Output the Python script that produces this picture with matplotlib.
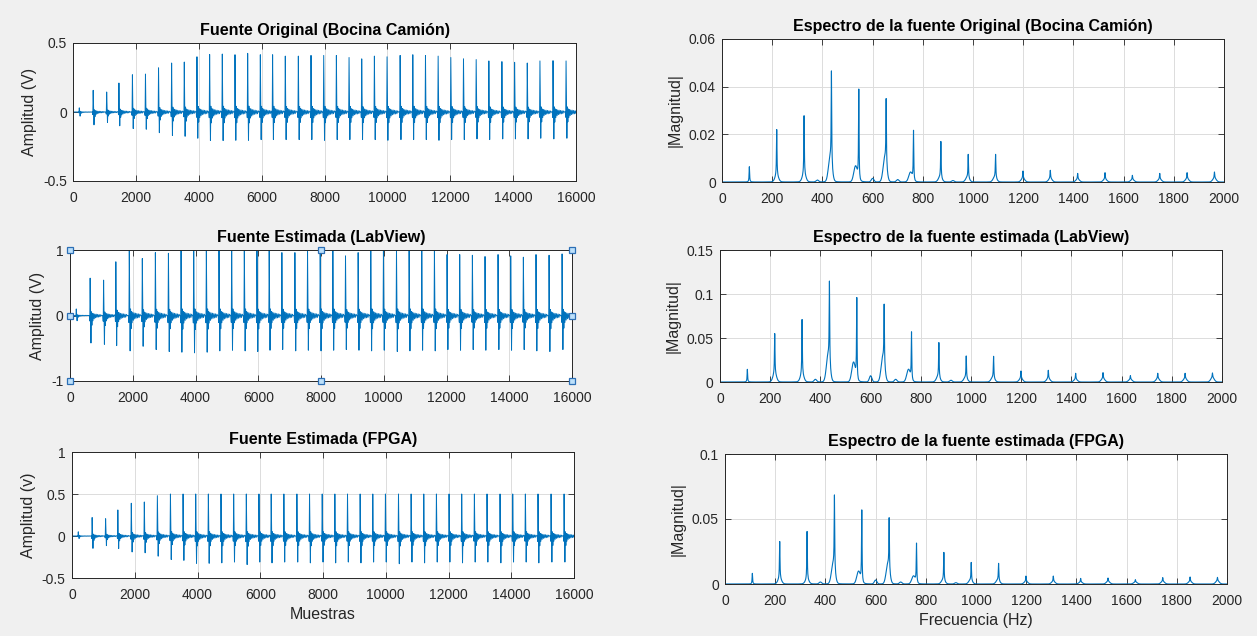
"""Horn source vs. estimated sources (LabView / FPGA): waveforms and spectra."""

import matplotlib

matplotlib.use("Agg")
import matplotlib.pyplot as plt
import numpy as np
from matplotlib.ticker import FuncFormatter, MultipleLocator

plt.rcParams["font.family"] = ["Liberation Sans", "DejaVu Sans"]
plt.rcParams["axes.unicode_minus"] = False

# ---------------------------------------------------------------- time data
n_samples = 16000

# sample index of each pulse (first entry is the small blip at the start)
pulse_pos = [200, 642, 1071, 1461, 1890, 2305, 2721, 3137, 3540, 3943, 4346,
             4749, 5153, 5556, 5959, 6349, 6753, 7168, 7571, 7975, 8378, 8781,
             9184, 9587, 9990, 10406, 10809, 11212, 11615, 12018, 12421, 12825,
             13228, 13643, 14047, 14450, 14853, 15269, 15684]

orig_pos = [0.03, 0.157, 0.145, 0.21, 0.27, 0.275, 0.32, 0.355, 0.362, 0.40,
            0.417, 0.42, 0.415, 0.425, 0.415, 0.415, 0.405, 0.405, 0.41, 0.41,
            0.41, 0.395, 0.385, 0.405, 0.40, 0.41, 0.415, 0.41, 0.405, 0.395,
            0.385, 0.38, 0.37, 0.365, 0.36, 0.355, 0.37, 0.372, 0.37]
orig_neg = [-0.03, -0.093, -0.076, -0.10, -0.12, -0.125, -0.15, -0.17, -0.176,
            -0.19, -0.207, -0.207, -0.205, -0.205, -0.2, -0.2, -0.2, -0.2, -0.2,
            -0.205, -0.2, -0.2, -0.2, -0.2, -0.205, -0.2, -0.2, -0.2, -0.205,
            -0.2, -0.2, -0.195, -0.2, -0.195, -0.195, -0.195, -0.19, -0.195, -0.19]

labview_pos = [0.1, 0.57, 0.54, 0.82, 1.0, 0.87, 0.96, 0.95, 1.0, 1.0, 1.0,
               1.0, 1.0, 1.0, 0.99, 1.0, 0.96, 0.96, 0.975, 1.0, 0.99, 0.91,
               0.96, 1.0, 0.985, 1.0, 1.0, 1.0, 1.0, 0.93, 0.93, 0.92, 0.9,
               0.93, 0.91, 0.89, 0.93, 0.92, 0.94]
labview_neg = [-0.08, -0.42, -0.44, -0.46, -0.54, -0.47, -0.52, -0.55, -0.56,
               -0.57, -0.56, -0.54, -0.53, -0.54, -0.55, -0.53, -0.52, -0.54,
               -0.53, -0.54, -0.53, -0.52, -0.53, -0.54, -0.53, -0.55, -0.54,
               -0.53, -0.54, -0.52, -0.53, -0.52, -0.53, -0.52, -0.53, -0.52,
               -0.54, -0.55, -0.52]

fpga_pos = [0.05, 0.22, 0.206, 0.31, 0.39, 0.405, 0.48, 0.5, 0.5, 0.5, 0.5,
            0.5, 0.5, 0.5, 0.5, 0.5, 0.5, 0.5, 0.5, 0.5, 0.5, 0.5, 0.5, 0.5,
            0.5, 0.5, 0.5, 0.5, 0.5, 0.5, 0.5, 0.5, 0.5, 0.5, 0.5, 0.5, 0.5,
            0.5, 0.5]
fpga_neg = [-0.03, -0.147, -0.115, -0.15, -0.19, -0.2, -0.24, -0.28, -0.29,
            -0.325, -0.325, -0.32, -0.31, -0.34, -0.31, -0.32, -0.31, -0.31,
            -0.32, -0.31, -0.32, -0.31, -0.32, -0.31, -0.31, -0.33, -0.31,
            -0.32, -0.31, -0.31, -0.32, -0.31, -0.31, -0.32, -0.31, -0.31,
            -0.32, -0.31, -0.31]

# shape of one pulse: offsets in samples, the part scaled by
# the positive peak and the part scaled by the negative peak
shape_off = [-24, -12, 0, 12, 26, 40, 56, 72, 90, 110, 130, 150, 172, 194, 216,
             240, 264, 288, 312, 336, 360]
shape_pos = [0, 0, 1.0, 0.2, 0, 0.1, -0.04, 0.06, -0.03, 0.05, -0.03, 0.04,
             -0.025, 0.035, -0.02, 0.03, -0.02, 0.025, -0.02, 0.02, 0]
shape_neg = [0, 0.2, 0, 0, 1.0, 0, 0.3, 0, 0.15, 0, 0.08, 0, 0.05, 0, 0.04, 0,
             0.03, 0, 0.02, 0, 0]

# ------------------------------------------------------------ spectrum data
harm_freq = [109, 218, 327, 436, 545, 654, 763, 872, 981, 1090, 1199, 1308,
             1417, 1526, 1635, 1744, 1853, 1962]
base_shift = [0, 0, 0, -5, -13, -5, -12, -3, -3, -3, 0, 0, 0, 0, 0, 0, 0, 0]

orig_peak = [0.0064, 0.022, 0.0278, 0.0466, 0.039, 0.035, 0.0217, 0.017, 0.0116,
             0.0116, 0.0046, 0.0049, 0.0036, 0.0039, 0.0028, 0.0036, 0.0039, 0.0042]
orig_base = [0.0, 0.0025, 0.003, 0.010, 0.0065, 0.010, 0.004, 0.002, 0.002,
             0.002, 0.0015, 0.0015, 0.0012, 0.0012, 0.001, 0.0012, 0.0014, 0.0016]

labview_peak = [0.0144, 0.055, 0.071, 0.1147, 0.096, 0.0885, 0.057, 0.0448,
                0.0296, 0.0292, 0.0125, 0.0133, 0.0099, 0.0106, 0.0072, 0.0099,
                0.0099, 0.0103]
labview_base = [0.0, 0.009, 0.008, 0.030, 0.022, 0.028, 0.014, 0.006, 0.005,
                0.005, 0.004, 0.004, 0.003, 0.004, 0.003, 0.004, 0.004, 0.005]

fpga_peak = [0.0082, 0.0327, 0.0404, 0.0685, 0.057, 0.051, 0.0315, 0.0243,
             0.0166, 0.0159, 0.0061, 0.0061, 0.0043, 0.0046, 0.0033, 0.0049,
             0.0054, 0.0051]
fpga_base = [0.0, 0.004, 0.003, 0.015, 0.0095, 0.015, 0.006, 0.003, 0.003,
             0.003, 0.002, 0.002, 0.0015, 0.002, 0.0015, 0.002, 0.002, 0.0025]

extra_freq = [380, 600, 700, 920]
orig_extra = [0.0008, 0.0015, 0.001, 0.0006]
labview_extra = [0.003, 0.007, 0.003, 0.002]
fpga_extra = [0.0015, 0.003, 0.0015, 0.001]

LINE = "#0072BD"
AX_COL = "#262626"


def build_wave(pos_amp, neg_amp):
    xs, ys = [0], [0.0]
    for p, a, b in zip(pulse_pos, pos_amp, neg_amp):
        for off, sp, sn in zip(shape_off, shape_pos, shape_neg):
            xs.append(p + off)
            ys.append(a * sp + b * sn)
    xs.append(n_samples - 1)
    ys.append(0.0)
    return np.array(xs), np.array(ys)


def build_spectrum(f, peaks, bases, extras):
    spec = np.zeros_like(f)
    for fk, pk, bk, sh in zip(harm_freq, peaks, bases, base_shift):
        bump = bk * np.exp(-0.5 * ((f - fk - sh) / 7.0) ** 2)
        spike = max(pk - bk * np.exp(-0.5 * (sh / 7.0) ** 2), 0.0)
        spec += bump + spike / (1.0 + ((f - fk) / 1.2) ** 2)
    for fe, he in zip(extra_freq, extras):
        spec += he * np.exp(-0.5 * ((f - fe) / 5.0) ** 2)
    return spec


def style_axes(ax):
    ax.set_facecolor("white")
    ax.grid(True, color="#dcdcdc", linewidth=0.7)
    ax.set_axisbelow(True)
    for s in ax.spines.values():
        s.set_color(AX_COL)
        s.set_linewidth(0.7)
    ax.tick_params(direction="in", length=4, width=0.6, colors=AX_COL,
                   labelsize=10, top=True, right=True)
    ax.tick_params(axis="x", pad=7.5)
    ax.tick_params(axis="y", pad=4.5)
    ax.yaxis.set_major_formatter(FuncFormatter(lambda v, _: f"{v:g}"))
    ax.xaxis.set_major_formatter(FuncFormatter(lambda v, _: f"{v:g}"))


W, H = 1257, 636
fig = plt.figure(figsize=(W / 100, H / 100), dpi=100, facecolor="#f0f0f0")


def add_box(l, t, r, b):
    return fig.add_axes([l / W, 1 - b / H, (r - l) / W, (b - t) / H])


boxes_left = [(73, 43, 576, 181), (70, 250, 572, 381), (72, 452, 574, 578)]
boxes_right = [(722, 39, 1224, 182), (720, 250, 1222, 382), (725, 454, 1227, 584)]

time_sets = [
    ("Fuente Original (Bocina Camión)", "Amplitud (V)", orig_pos, orig_neg, (-0.5, 0.5), 0.5),
    ("Fuente Estimada (LabView)", "Amplitud (V)", labview_pos, labview_neg, (-1, 1), 1),
    ("Fuente Estimada (FPGA)", "Amplitud (v)", fpga_pos, fpga_neg, (-0.5, 1), 0.5),
]
spec_sets = [
    ("Espectro de la fuente Original (Bocina Camión)", orig_peak, orig_base, orig_extra, 0.06, 0.02),
    ("Espectro de la fuente estimada (LabView)", labview_peak, labview_base, labview_extra, 0.15, 0.05),
    ("Espectro de la fuente estimada (FPGA)", fpga_peak, fpga_base, fpga_extra, 0.1, 0.05),
]

freq = np.arange(0, 2001, 1.0)

for i, (box, (title, ylab, pa, na, ylim, ystep)) in enumerate(zip(boxes_left, time_sets)):
    ax = add_box(*box)
    x, y = build_wave(pa, na)
    ax.plot(x, np.clip(y, ylim[0], ylim[1]), color=LINE, linewidth=0.7)
    ax.set_xlim(0, 16000)
    ax.set_ylim(*ylim)
    ax.xaxis.set_major_locator(MultipleLocator(2000))
    ax.yaxis.set_major_locator(MultipleLocator(ystep))
    style_axes(ax)
    ax.set_title(title, fontsize=11.5, fontweight="bold", pad=6)
    ax.set_ylabel(ylab, fontsize=11.5, color=AX_COL, labelpad=4.5)
    if i == 2:
        ax.set_xlabel("Muestras", fontsize=11.5, color=AX_COL, labelpad=3)
    if i == 1:
        hx = [0, 8000, 16000, 0, 16000, 0, 8000, 16000]
        hy = [1, 1, 1, 0, 0, -1, -1, -1]
        ax.plot(hx, hy, linestyle="none", marker="s", markersize=5,
                markerfacecolor="#bde0fa", markeredgecolor="#2c6fb5",
                markeredgewidth=0.9, clip_on=False, zorder=10)

for i, (box, (title, pk, bs, ex, ymax, ystep)) in enumerate(zip(boxes_right, spec_sets)):
    ax = add_box(*box)
    ax.plot(freq, build_spectrum(freq, pk, bs, ex), color=LINE, linewidth=0.8)
    ax.set_xlim(0, 2000)
    ax.set_ylim(0, ymax)
    ax.xaxis.set_major_locator(MultipleLocator(200))
    ax.yaxis.set_major_locator(MultipleLocator(ystep))
    style_axes(ax)
    ax.set_title(title, fontsize=11.5, fontweight="bold", pad=6)
    ax.set_ylabel("|Magnitud|", fontsize=11.5, color=AX_COL, labelpad=4.5)
    if i == 2:
        ax.set_xlabel("Frecuencia (Hz)", fontsize=11.5, color=AX_COL, labelpad=3)

fig.savefig("out.png", dpi=100, facecolor=fig.get_facecolor())
